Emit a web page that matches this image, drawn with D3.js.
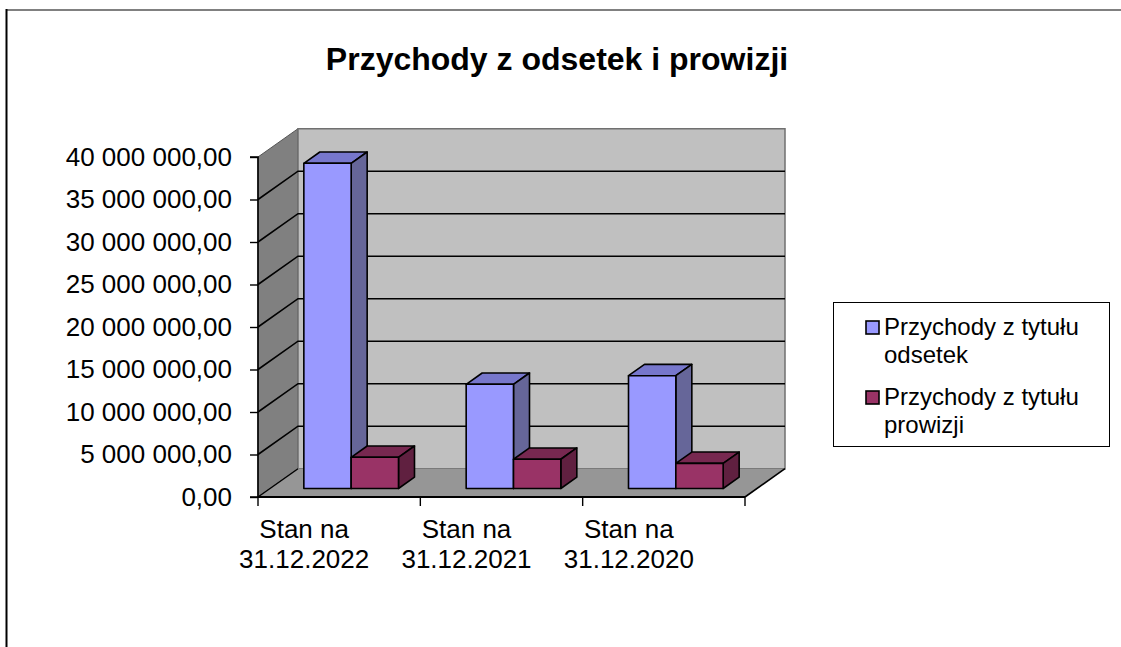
<!DOCTYPE html>
<html>
<head>
<meta charset="utf-8">
<script src="https://cdn.jsdelivr.net/npm/d3@7"></script>
<style>
  html, body { margin: 0; padding: 0; background: #fff; }
  svg { display: block; font-family: "Liberation Sans", Arial, sans-serif; }
</style>
</head>
<body>
<svg id="chart" width="1121" height="647"></svg>
<script>
// ---- data ----
const categories = ["Stan na 31.12.2022", "Stan na 31.12.2021", "Stan na 31.12.2020"];
const categoryLines = [["Stan na", "31.12.2022"], ["Stan na", "31.12.2021"], ["Stan na", "31.12.2020"]];
const seriesNames = ["Przychody z tytułu odsetek", "Przychody z tytułu prowizji"];
const legendLines = [["Przychody z tytułu", "odsetek"], ["Przychody z tytułu", "prowizji"]];
const odsetek = [38260000, 12260000, 13270000];
const prowizji = [3670000, 3440000, 2960000];
const yTicks = [0, 5000000, 10000000, 15000000, 20000000, 25000000, 30000000, 35000000, 40000000];
const title = "Przychody z odsetek i prowizji";

// ---- styling ----
const seriesColors = [
  { front: "#9999FF", top: "#7777CC", side: "#666699" },
  { front: "#993366", top: "#772850", side: "#602040" }
];
const DX = 40, DY = -28.3;          // depth offset of back wall
const FA = 0.3, FB = 0.7;            // bar depth fractions

const svg = d3.select("#chart");
const loc = d3.formatLocale({ decimal: ",", thousands: " ", grouping: [3], currency: ["", ""] });
const fmt = loc.format(",.2f");

const y = d3.scaleLinear().domain([0, 40000000]).range([497, 157]);
const x = d3.scaleBand().domain(categories).range([258, 745]).padding(0);
const xs = d3.scaleBand().domain(seriesNames).range([0, x.bandwidth()]).paddingInner(0).paddingOuter(0.715);

const P = (px, py, f) => [px + f * DX, py + f * DY];
const poly = pts => pts.map(p => p.join(",")).join(" ");

// outer frame lines
svg.append("line").attr("x1", 6).attr("x2", 1121).attr("y1", 10).attr("y2", 10)
  .attr("stroke", "#808080").attr("stroke-width", 2);
svg.append("line").attr("x1", 6.5).attr("x2", 6.5).attr("y1", 9).attr("y2", 647)
  .attr("stroke", "#000").attr("stroke-width", 2);

// title
svg.append("text").attr("x", 557).attr("y", 70).attr("text-anchor", "middle")
  .attr("font-size", 32).attr("font-weight", "bold").attr("fill", "#000").text(title);

const xL = x.range()[0], xR = x.range()[1];
const yMin = y(0), yMax = y(40000000);

// side wall
svg.append("polygon")
  .attr("points", poly([P(xL, yMin, 0), P(xL, yMax, 0), P(xL, yMax, 1), P(xL, yMin, 1)]))
  .attr("fill", "#808080").attr("stroke", "#555").attr("stroke-width", 1);
// back wall
svg.append("polygon")
  .attr("points", poly([P(xL, yMin, 1), P(xL, yMax, 1), P(xR, yMax, 1), P(xR, yMin, 1)]))
  .attr("fill", "#C0C0C0").attr("stroke", "#707070").attr("stroke-width", 1.5);
// floor
svg.append("polygon")
  .attr("points", poly([P(xL, yMin, 0), P(xR, yMin, 0), P(xR, yMin, 1), P(xL, yMin, 1)]))
  .attr("fill", "#969696").attr("stroke", "none");

// gridlines
const gridTicks = yTicks.filter(t => t > 0 && t < 40000000);
svg.append("g").selectAll("polyline").data(gridTicks).join("polyline")
  .attr("points", d => poly([P(xL, y(d), 0), P(xL, y(d), 1), P(xR, y(d), 1)]))
  .attr("fill", "none").attr("stroke", "#000").attr("stroke-width", 1.6);
// floor left diagonal
svg.append("line")
  .attr("x1", P(xL, yMin, 0)[0]).attr("y1", P(xL, yMin, 0)[1])
  .attr("x2", P(xL, yMin, 1)[0]).attr("y2", P(xL, yMin, 1)[1])
  .attr("stroke", "#000").attr("stroke-width", 1.4);
// floor right edge
svg.append("line")
  .attr("x1", P(xR, yMin, 0)[0]).attr("y1", P(xR, yMin, 0)[1])
  .attr("x2", P(xR, yMin, 1)[0]).attr("y2", P(xR, yMin, 1)[1])
  .attr("stroke", "#000").attr("stroke-width", 1.6);

// bars
const seriesData = [odsetek, prowizji];
const barsG = svg.append("g");
categories.forEach((c, ci) => {
  seriesNames.forEach((s, si) => {
    const v = seriesData[si][ci];
    const col = seriesColors[si];
    const x0 = x(c) + xs(s), x1 = x0 + xs.bandwidth();
    const yt = y(v), yb = y(0);
    const g = barsG.append("g").attr("stroke", "#000").attr("stroke-width", 1.6).attr("stroke-linejoin", "round");
    g.append("polygon").attr("fill", col.top)
      .attr("points", poly([P(x0, yt, FA), P(x1, yt, FA), P(x1, yt, FB), P(x0, yt, FB)]));
    g.append("polygon").attr("fill", col.side)
      .attr("points", poly([P(x1, yt, FA), P(x1, yt, FB), P(x1, yb, FB), P(x1, yb, FA)]));
    g.append("polygon").attr("fill", col.front)
      .attr("points", poly([P(x0, yt, FA), P(x1, yt, FA), P(x1, yb, FA), P(x0, yb, FA)]));
  });
});

// axes
const yAxis = d3.axisLeft(y).tickValues(yTicks).tickSize(8).tickPadding(18).tickFormat(fmt);
const yg = svg.append("g").attr("transform", `translate(${xL},0)`).call(yAxis);
yg.select(".domain").attr("stroke", "#000").attr("stroke-width", 1.6).attr("d", `M-8,${yMax}H0V${yMin}H-8`);
yg.selectAll(".tick line").attr("stroke", "#000").attr("stroke-width", 1.4);
yg.selectAll(".tick text").attr("font-size", 26).attr("fill", "#000")
  .attr("font-family", "'Liberation Sans', Arial, sans-serif");

// x axis line and ticks at category boundaries
const boundaries = categories.map(c => x(c)).concat([xR]);
svg.append("line").attr("x1", xL).attr("x2", xR).attr("y1", yMin).attr("y2", yMin)
  .attr("stroke", "#000").attr("stroke-width", 1.8);
svg.append("g").selectAll("line").data(boundaries).join("line")
  .attr("x1", d => d).attr("x2", d => d).attr("y1", yMin).attr("y2", yMin + 9)
  .attr("stroke", "#000").attr("stroke-width", 1.4);

// category labels
const xLab = svg.append("g");
categories.forEach((c, ci) => {
  const cx = x(c) + x.bandwidth() / 2 - 35;
  const t = xLab.append("text").attr("text-anchor", "middle").attr("font-size", 26).attr("fill", "#000");
  categoryLines[ci].forEach((ln, li) => {
    t.append("tspan").attr("x", cx).attr("y", 538 + li * 30).text(ln);
  });
});

// legend
const lg = svg.append("g");
lg.append("rect").attr("x", 833.5).attr("y", 302.5).attr("width", 276).attr("height", 144)
  .attr("fill", "#fff").attr("stroke", "#000").attr("stroke-width", 1);
seriesNames.forEach((s, si) => {
  const by = 335 + si * 70;
  lg.append("rect").attr("x", 866).attr("y", by - 14).attr("width", 13).attr("height", 13)
    .attr("fill", seriesColors[si].front).attr("stroke", "#000").attr("stroke-width", 1.6);
  const t = lg.append("text").attr("font-size", 24).attr("fill", "#000");
  legendLines[si].forEach((ln, li) => {
    t.append("tspan").attr("x", 884).attr("y", by + li * 28).text(ln);
  });
});
</script>
</body>
</html>
